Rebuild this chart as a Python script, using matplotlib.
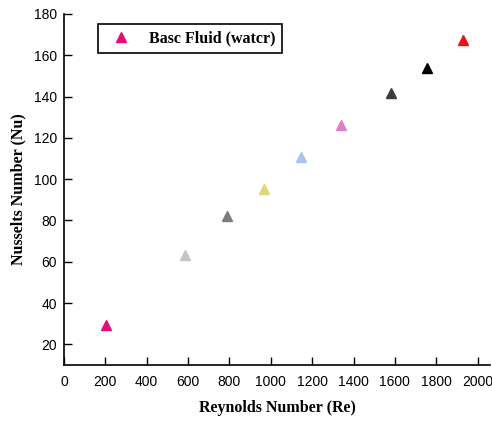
import numpy as np
import matplotlib.pyplot as plt

# Reynolds number vs Nusselt number, base fluid
re_vals = [202, 583, 786, 968, 1148, 1340, 1581, 1757, 1931]
nu_vals = [29.5, 63.5, 82.0, 95.3, 110.5, 126.3, 141.5, 154.0, 167.3]
colors = ['#e0107a', '#c4c4c4', '#7c7c7c', '#dcd87a', '#a4c6ee',
          '#de80c4', '#3c3c3c', '#000000', '#f01010']
legend_label = 'Basc Fluid (watcr)'

fig = plt.figure(figsize=(4.92, 4.21), dpi=100)
ax = fig.add_axes([0.130, 0.133, 0.866, 0.834])

for i in range(len(re_vals)):
    ax.plot(re_vals[i], nu_vals[i], marker='^', linestyle='none',
            color=colors[i], markersize=7,
            label=legend_label if i == 0 else None)

ax.set_xlim(0, 2060)
ax.set_ylim(10, 180)
ax.set_xticks(np.arange(0, 2001, 200))
ax.set_yticks(np.arange(20, 181, 20))

for s in ['top', 'right']:
    ax.spines[s].set_visible(False)
ax.spines['left'].set_linewidth(1.2)
ax.spines['bottom'].set_linewidth(1.2)

ax.tick_params(axis='x', direction='in', length=6, width=1, labelsize=10, pad=7)
ax.tick_params(axis='y', direction='in', length=6, width=1, labelsize=10, pad=5)
for lab in ax.get_xticklabels() + ax.get_yticklabels():
    lab.set_family('Liberation Sans')

ax.set_xlabel('Reynolds Number (Re)', family='Liberation Serif', fontweight='bold',
              fontsize=11.5, labelpad=8)
ax.set_ylabel('Nusselts Number (Nu)', family='Liberation Serif', fontweight='bold',
              fontsize=11.5, labelpad=5)

leg = ax.legend(loc='upper left', bbox_to_anchor=(0.08, 0.971), borderaxespad=0,
                fancybox=False, framealpha=1, edgecolor='black', handletextpad=0.7,
                prop={'family': 'Liberation Serif', 'weight': 'bold', 'size': 11.5},
                borderpad=0.4, handlelength=2.1)
leg.get_frame().set_linewidth(1.2)

fig.savefig('out.png', dpi=100)
